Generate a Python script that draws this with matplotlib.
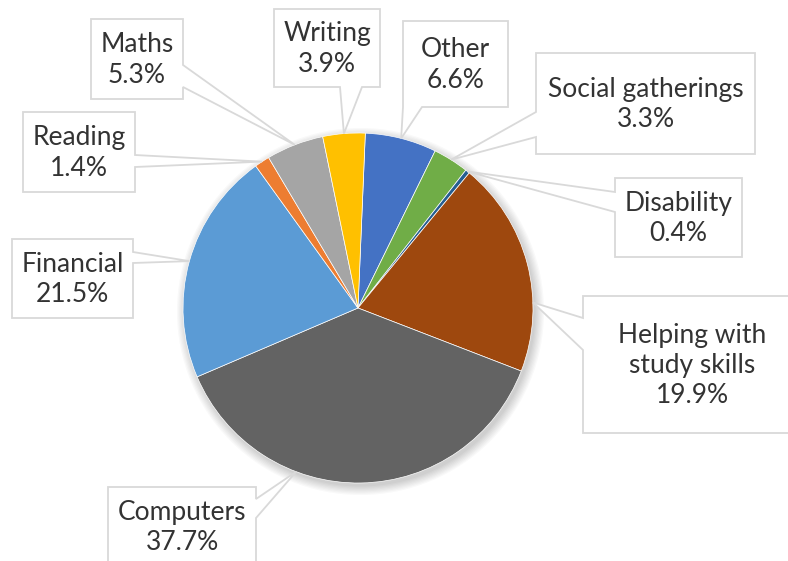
import numpy as np
import matplotlib.pyplot as plt
from matplotlib.patches import Polygon, Circle

categories = ["Other", "Social gatherings", "Disability", "Helping with\nstudy skills",
              "Computers", "Financial", "Reading", "Maths", "Writing"]
shares = [6.6, 3.3, 0.4, 19.9, 37.7, 21.5, 1.4, 5.3, 3.9]
colors = ["#4472C4", "#70AD47", "#255E91", "#9E480E", "#636363",
          "#5B9BD5", "#ED7D31", "#A5A5A5", "#FFC000"]

# label callouts, pixel coords (y down): box, side of pointer, pointer base, where on wedge to point
callouts = {
    "Other": ((403, 21, 508, 107), "bottom", (403, 422), 0.5),
    "Social gatherings": ((536, 53, 755, 154), "left", (112, 137), 0.5),
    "Disability": ((615, 178, 742, 257), "left", (192, 212), 0.5),
    "Helping with\nstudy skills": ((583, 296, 801, 433), "left", (318, 350), 0.68),
    "Computers": ((108, 487, 256, 566), "right", (499, 518), 0.66),
    "Financial": ((12, 239, 133, 318), "right", (252, 263), 0.5),
    "Reading": ((23, 112, 135, 192), "right", (155, 167), 0.5),
    "Maths": ((91, 19, 183, 99), "right", (65, 87), 0.5),
    "Writing": ((274, 9, 380, 87), "bottom", (340, 362), 0.5),
}

W, H = 788, 561
CX, CY, R = 358, 308, 175


def to_data(px, py):
    return (px - CX) / R, (CY - py) / R


def callout_points(box, side, base, tip):
    x0, y0, x1, y1 = box
    a, b = base
    pts = [(x0, y0)]
    if side == "top":
        pts += [(a, y0), tip, (b, y0)]
    pts.append((x1, y0))
    if side == "right":
        pts += [(x1, a), tip, (x1, b)]
    pts.append((x1, y1))
    if side == "bottom":
        pts += [(b, y1), tip, (a, y1)]
    pts.append((x0, y1))
    if side == "left":
        pts += [(x0, b), tip, (x0, a)]
    return [to_data(px, py) for px, py in pts]


plt.rcParams['font.family'] = ['Lato', 'DejaVu Sans']

fig = plt.figure(figsize=(W / 100, H / 100), dpi=100)
ax = fig.add_axes([0, 0, 1, 1])

# soft shadow under the pie
for i in range(8):
    ax.add_patch(Circle((2.5 / R, -3.5 / R), 1 + i * 0.007, color="#000000",
                        alpha=0.025, lw=0, zorder=0))

wedges, _ = ax.pie(shares, colors=colors, startangle=87.6, counterclock=False,
                   radius=1, center=(0, 0),
                   wedgeprops=dict(edgecolor="white", linewidth=0.5))
for w in wedges:
    w.set_zorder(2)

for w, name, val in zip(wedges, categories, shares):
    box, side, base, frac = callouts[name]
    ang = np.deg2rad(w.theta2 - frac * (w.theta2 - w.theta1))
    tip = (CX + R * np.cos(ang), CY - R * np.sin(ang))
    poly = Polygon(callout_points(box, side, base, tip), closed=True,
                   facecolor="white", edgecolor="#D9D9D9", linewidth=1.3, zorder=3)
    ax.add_patch(poly)
    tx, ty = to_data((box[0] + box[2]) / 2, (box[1] + box[3]) / 2 + 1)
    ax.text(tx, ty, f"{name}\n{val:.1f}%", ha="center", va="center",
            fontsize=19, color="#333333", linespacing=1.27, zorder=4)

ax.set_xlim(-CX / R, (W - CX) / R)
ax.set_ylim((CY - H) / R, CY / R)
ax.set_aspect("auto")
ax.axis("off")

fig.savefig("out.png", dpi=100, facecolor="white")
